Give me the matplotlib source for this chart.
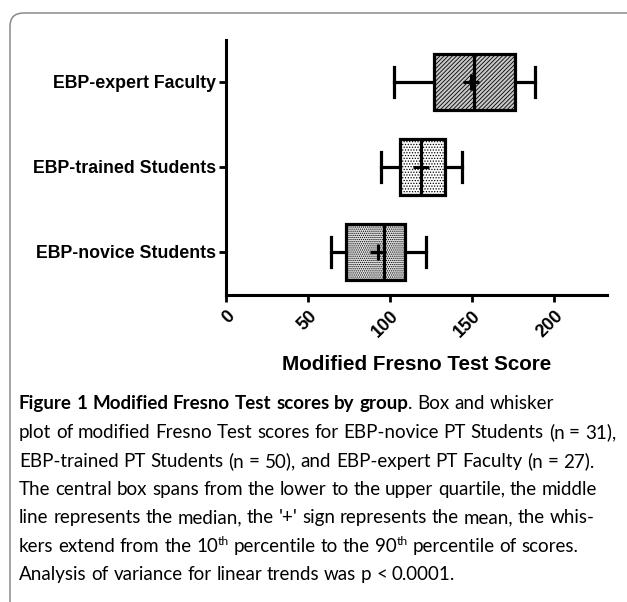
import matplotlib
matplotlib.use('Agg')
import matplotlib.pyplot as plt
from matplotlib.patches import FancyBboxPatch
from matplotlib.transforms import IdentityTransform

# data
groups = ['EBP-novice Students', 'EBP-trained Students', 'EBP-expert Faculty']
p10 = [64, 94.5, 102]
q1 = [73, 106, 126.5]
median = [96.5, 119, 151]
q3 = [109, 133.5, 176]
p90 = [122, 144, 188]
means = [92.5, 118.5, 149]
xticks = [0, 50, 100, 150, 200]

caption = [
    [[('Figure', 'b')], [('1', 'b')], [('Modified', 'b')], [('Fresno', 'b')], [('Test', 'b')],
     [('scores', 'b')], [('by', 'b')], [('group', 'b'), ('.', 'n')], [('Box', 'n')],
     [('and', 'n')], [('whisker', 'n')]],
    'plot of modified Fresno Test scores for EBP-novice PT Students (n = 31),',
    'EBP-trained PT Students (n = 50), and EBP-expert PT Faculty (n = 27).',
    'The central box spans from the lower to the upper quartile, the middle',
    "line represents the median, the '+' sign represents the mean, the whis-",
    [[('kers', 'n')], [('extend', 'n')], [('from', 'n')], [('the', 'n')], [('10', 'n'), ('th', 's')],
     [('percentile', 'n')], [('to', 'n')], [('the', 'n')], [('90', 'n'), ('th', 's')],
     [('percentile', 'n')], [('of', 'n')], [('scores.', 'n')]],
    'Analysis of variance for linear trends was p < 0.0001.',
]

W, H = 627, 602
fig = plt.figure(figsize=(W / 100, H / 100), dpi=100)
plt.rcParams['font.family'] = 'Liberation Sans'
plt.rcParams['hatch.linewidth'] = 0.6

ax = fig.add_axes([226 / W, 1 - 295 / H, (607 - 226) / W, (295 - 40) / H])

stats = []
for i in range(3):
    stats.append(dict(whislo=p10[i], q1=q1[i], med=median[i], q3=q3[i],
                      whishi=p90[i], mean=means[i], fliers=[], label=groups[i]))

bp = ax.bxp(stats, positions=[1, 2, 3], vert=False, widths=0.67, capwidths=0.35,
            patch_artist=True, showmeans=True,
            boxprops=dict(linewidth=2.3, edgecolor='black'),
            medianprops=dict(color='black', linewidth=2.3),
            whiskerprops=dict(color='black', linewidth=2.3),
            capprops=dict(color='black', linewidth=2.3),
            meanprops=dict(marker='+', markersize=11, markeredgewidth=2.2,
                           markeredgecolor='black'))

fills = [('#e2e2e2', '........'), ('white', '......'), ('#c8c8c8', '////////')]
for box, (fc, h) in zip(bp['boxes'], fills):
    box.set_facecolor(fc)
    box.set_hatch(h)

ax.set_xlim(0, 232)
ax.set_ylim(0.494, 3.494)
ax.set_xticks(xticks)
ax.set_xticklabels([str(t) for t in xticks], rotation=45, ha='right', va='top',
                   rotation_mode='anchor', fontweight='bold', fontsize=13)
ax.set_yticks([1, 2, 3])
ax.set_yticklabels(groups, fontweight='bold', fontsize=12.8)
ax.tick_params(axis='both', width=2, length=5, direction='out')
ax.tick_params(axis='x', pad=4)
ax.tick_params(axis='y', pad=2)
for s in ['top', 'right']:
    ax.spines[s].set_visible(False)
for s in ['left', 'bottom']:
    ax.spines[s].set_linewidth(2.2)
ax.set_xlabel('Modified Fresno Test Score', fontweight='bold', fontsize=14.9, labelpad=10)

# frame around figure and caption
frame = FancyBboxPatch((10 / W, (H - 640) / H), 660 / W, (640 - 13) / H,
                       boxstyle='round,pad=0,rounding_size=0.022', transform=fig.transFigure,
                       facecolor='none', edgecolor='#8a8a8a', linewidth=1.1, clip_on=False)
fig.patches.append(frame)

# caption, drawn word by word
renderer = fig.canvas.get_renderer()
cap_font = 'Lato'
cap_size = 13.5


def piece(x, y, txt, style):
    kw = dict(fontsize=cap_size, family=cap_font, va='baseline', ha='left')
    if style == 'b':
        kw['fontweight'] = 'bold'
    if style == 's':
        kw['fontsize'] = cap_size * 0.65
        y = y + 7
    t = fig.text(x, y, txt, **kw)
    t.set_transform(IdentityTransform())
    return t.get_window_extent(renderer).width


t1 = fig.text(0, 0, 'a a', fontsize=cap_size, family=cap_font)
t2 = fig.text(0, 0, 'aa', fontsize=cap_size, family=cap_font)
space = t1.get_window_extent(renderer).width - t2.get_window_extent(renderer).width
t1.remove()
t2.remove()

baselines = [409, 438, 467, 495, 523, 552, 580]
for line, yb in zip(caption, baselines):
    if isinstance(line, str):
        line = [[(w, 'n')] for w in line.split(' ')]
    x = 19
    y = H - yb
    for word in line:
        for txt, st in word:
            x += piece(x, y, txt, st)
        x += space

fig.savefig('out.png', dpi=100, facecolor='white')
